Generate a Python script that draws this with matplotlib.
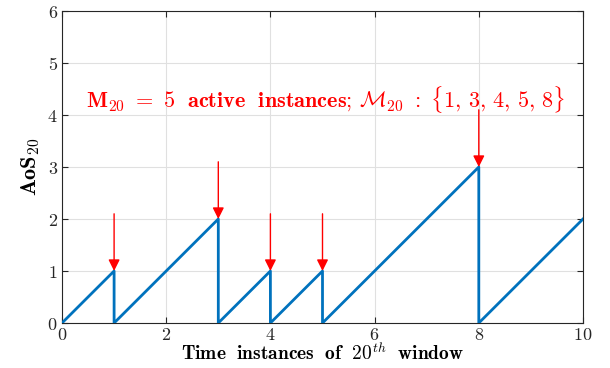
import matplotlib
matplotlib.use('Agg')
import matplotlib.pyplot as plt

plt.rcParams['mathtext.fontset'] = 'cm'
plt.rcParams['font.family'] = 'serif'
plt.rcParams['font.serif'] = ['cmr10']
plt.rcParams['axes.formatter.use_mathtext'] = True

# sawtooth of AoS, reset at each active instance
t_vals = [0, 1, 1, 3, 3, 4, 4, 5, 5, 8, 8, 10]
aos_vals = [0, 1, 0, 2, 0, 1, 0, 1, 0, 3, 0, 2]
active = [1, 3, 4, 5, 8]
active_peak = [1, 2, 1, 1, 3]
arrow_len = 1.1

fig = plt.figure(figsize=(6.1, 3.68), dpi=100)
ax = fig.add_axes([62 / 610, 45 / 368, 521 / 610, 312 / 368])

ax.plot(t_vals, aos_vals, color='#0072BD', linewidth=2.0, zorder=3)

for x, p in zip(active, active_peak):
    ax.annotate('', xy=(x, p), xytext=(x, p + arrow_len),
                arrowprops=dict(arrowstyle='-|>', color='red', lw=1.0,
                                mutation_scale=17, shrinkA=0, shrinkB=0),
                zorder=4)

ax.text(5.05, 4.29,
        r'$\mathbf{M_{20}\ =\ 5\ \ active\ \ instances;}\,\mathcal{M}_{\mathbf{20}}\ \mathbf{:\ \{1,\,3,\,4,\,5,\,8\}}$',
        color='red', fontsize=16, ha='center', va='center')

ax.set_xlim(0, 10)
ax.set_ylim(0, 6)
ax.set_xticks([0, 2, 4, 6, 8, 10])
ax.set_yticks([0, 1, 2, 3, 4, 5, 6])
ax.grid(True, color='#e0e0e0', linewidth=0.8)
ax.set_axisbelow(True)
ax.tick_params(direction='in', length=4, labelsize=13, colors='#262626',
               top=True, right=True, pad=3)
for s in ax.spines.values():
    s.set_color('#262626')
    s.set_linewidth(0.8)

ax.set_xlabel(r'$\mathbf{Time\ \ instances\ \ of\ \ }20^{th}\mathbf{\ \ window}$',
              fontsize=14, labelpad=-1)
ax.set_ylabel(r'$\mathbf{AoS_{20}}$', fontsize=16, labelpad=4)

fig.savefig('out.png', dpi=100)
